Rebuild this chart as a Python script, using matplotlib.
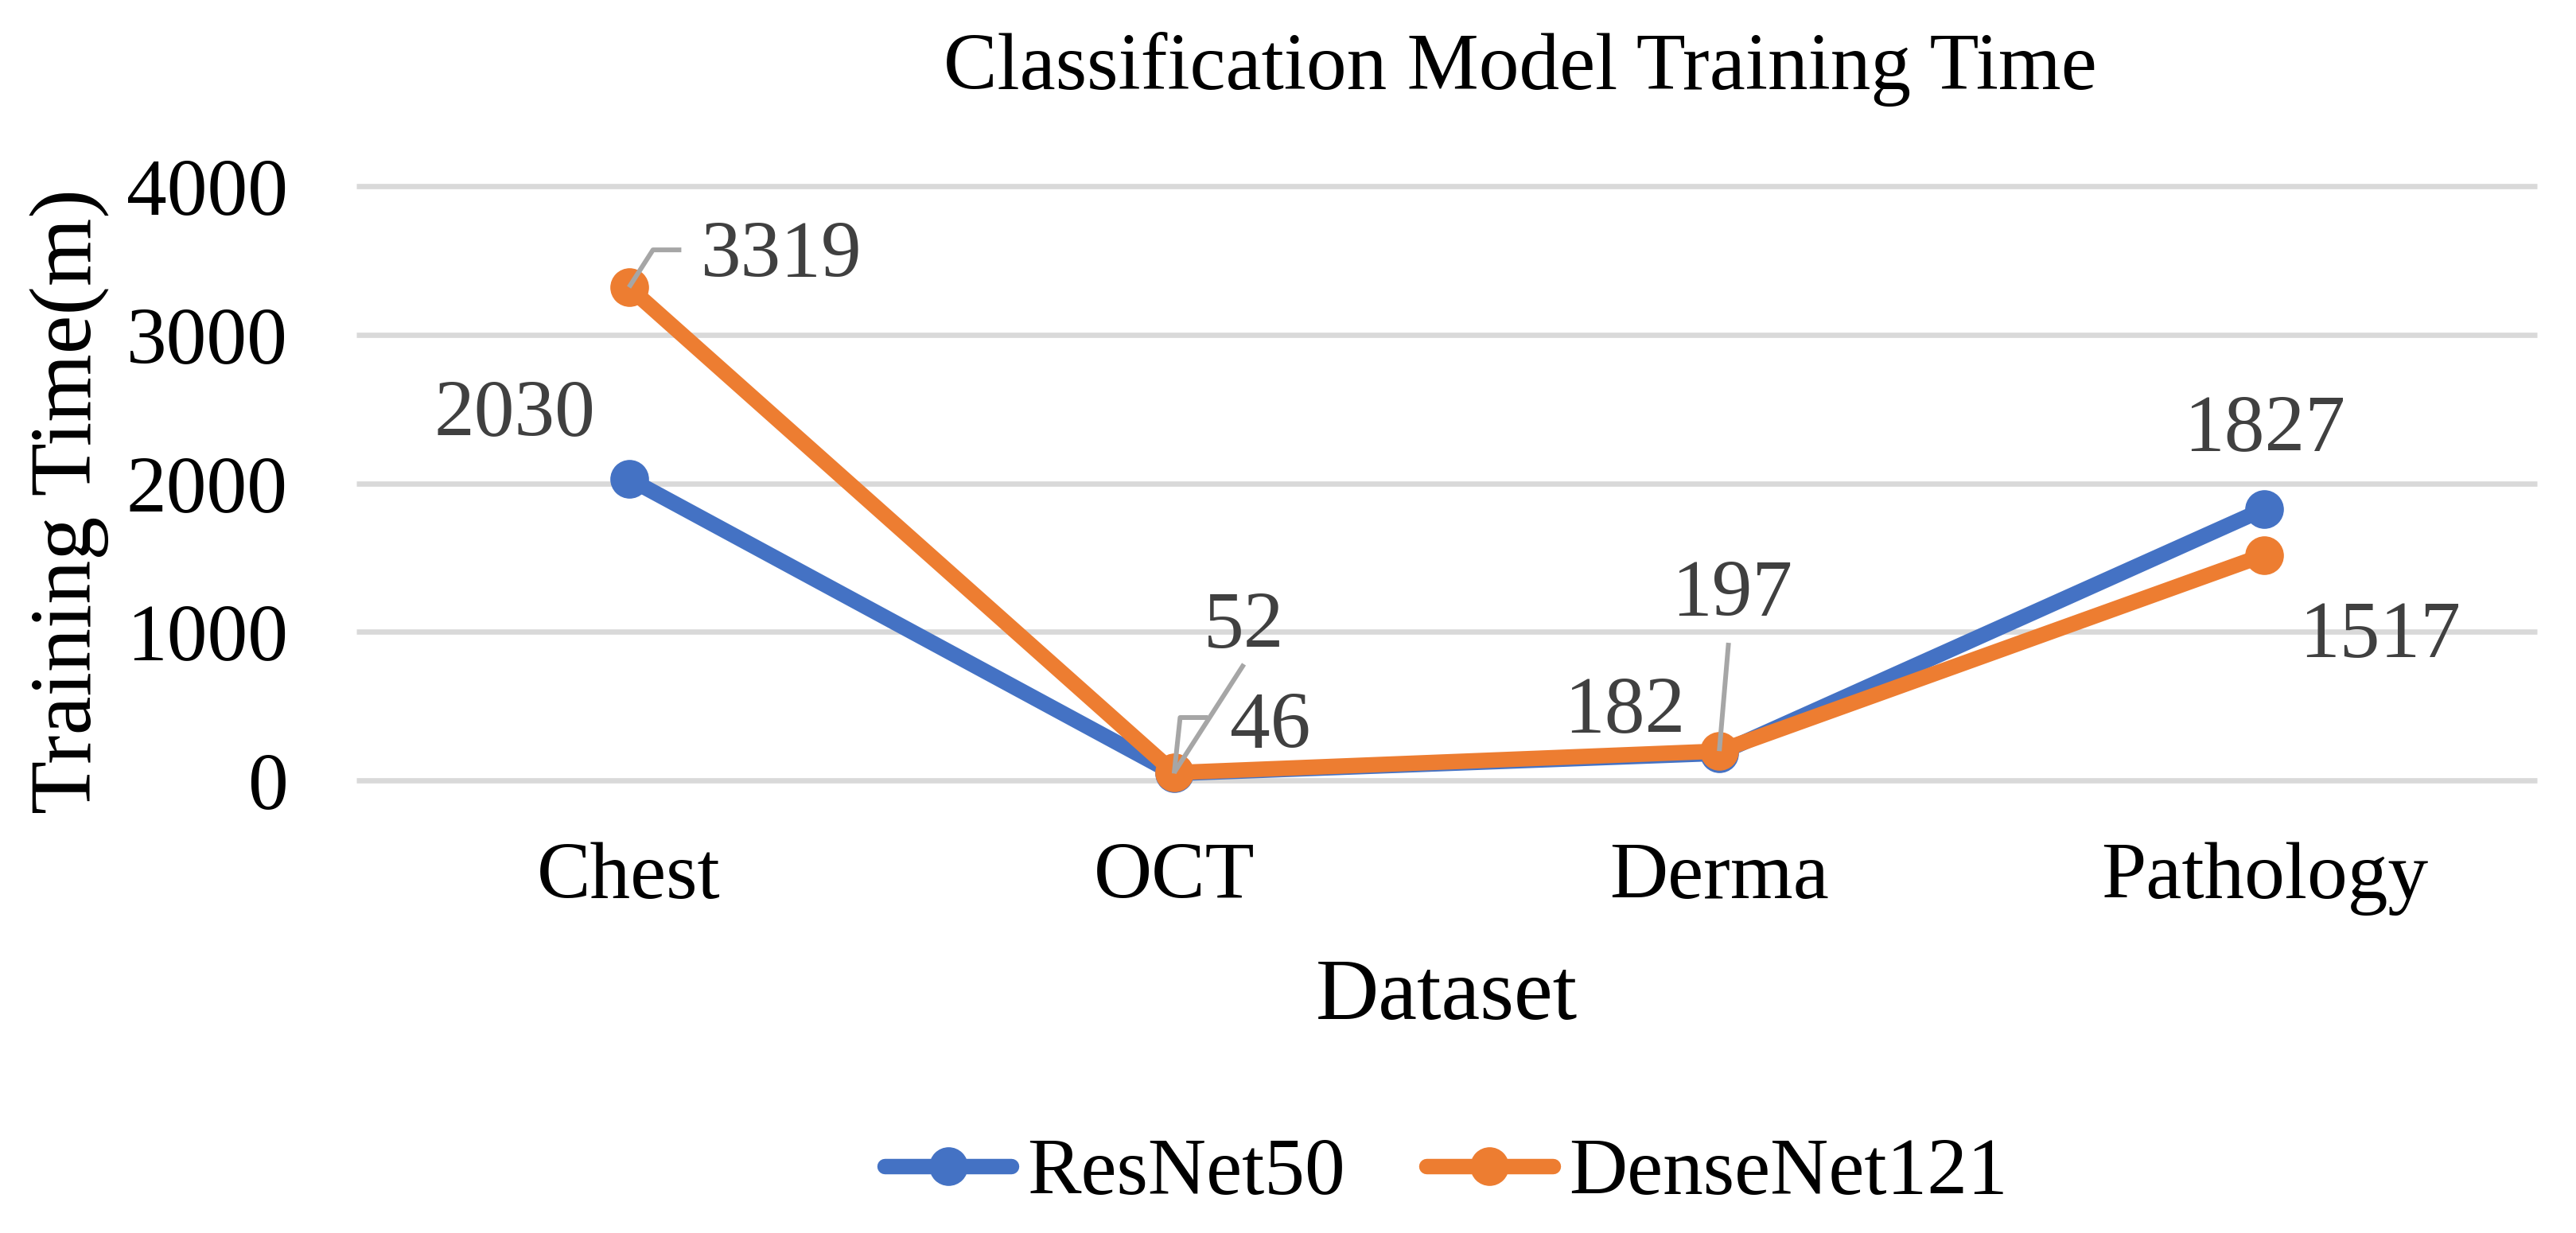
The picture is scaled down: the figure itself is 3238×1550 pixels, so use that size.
import matplotlib
matplotlib.use("Agg")
import matplotlib.pyplot as plt
from matplotlib.lines import Line2D

# ---- chart data ----
datasets = ["Chest", "OCT", "Derma", "Pathology"]
resnet50 = [2030, 46, 182, 1827]
densenet121 = [3319, 52, 197, 1517]
yticks = [0, 1000, 2000, 3000, 4000]

BLUE = "#4472C4"
ORANGE = "#ED7D31"
LABEL_GREY = "#404040"
LEADER_GREY = "#A6A6A6"
GRID_GREY = "#D9D9D9"

# label placement (dx in category units, dy in data units to the text baseline)
resnet_label_offsets = [(-0.21, 294), (0.177, 174), (-0.173, 145), (0.0, 395)]
densenet_label_offsets = [(0.279, 71), (0.128, 842), (0.023, 911), (0.212, -687)]
# leader lines: (series, index, polyline of offsets ending at the point)
leaders = [
    ("densenet", 0, [(0.096, 252), (0.044, 252), (0, 0)]),
    ("densenet", 1, [(0.128, 730), (0, 0)]),
    ("resnet", 1, [(0.062, 377), (0.011, 377), (0, 0)]),
    ("densenet", 2, [(0.017, 729), (0, 0)]),
]

plt.rcParams["font.family"] = ["Liberation Serif", "DejaVu Serif"]

W, H = 3238, 1550
fig = plt.figure(figsize=(W / 100, H / 100), dpi=100)
ax = fig.add_axes([448 / W, 1 - 981 / H, (3189 - 448) / W, (981 - 234) / H])

x = list(range(len(datasets)))
ax.set_xlim(-0.5, len(datasets) - 0.5)
ax.set_ylim(0, 4000)

# gridlines
ax.hlines(yticks, -0.5, len(datasets) - 0.5, color=GRID_GREY, lw=4.8,
          zorder=0, clip_on=False)

ax.plot(x, resnet50, color=BLUE, lw=14, marker="o", ms=34,
        solid_capstyle="round", clip_on=False, zorder=3, label="ResNet50")
ax.plot(x, densenet121, color=ORANGE, lw=14, marker="o", ms=34,
        solid_capstyle="round", clip_on=False, zorder=4, label="DenseNet121")

series = {"resnet": resnet50, "densenet": densenet121}
for name, idx, pts in leaders:
    val = series[name][idx]
    ax.plot([idx + p[0] for p in pts], [val + p[1] for p in pts],
            color=LEADER_GREY, lw=4.3, zorder=5, clip_on=False,
            solid_capstyle="butt")

for vals, offs in ((resnet50, resnet_label_offsets),
                   (densenet121, densenet_label_offsets)):
    for i, (v, (dx, dy)) in enumerate(zip(vals, offs)):
        ax.text(i + dx, v + dy, str(v), ha="center", va="baseline",
                fontsize=73, color=LABEL_GREY, zorder=6)

for s in ax.spines.values():
    s.set_visible(False)
ax.set_xticks(x)
ax.set_xticklabels(datasets, fontsize=73)
ax.set_yticks(yticks)
ax.set_yticklabels([str(t) for t in yticks], fontsize=73)
ax.tick_params(axis="x", length=0, pad=56)
ax.tick_params(axis="y", length=0, pad=62)

fig.text(0.59, 1 - 112 / H, "Classification Model Training Time",
         ha="center", va="baseline", fontsize=73)
fig.text(1818 / W, 1 - 1281 / H, "Dataset", ha="center", va="baseline",
         fontsize=79)
fig.text(88 / W, 1 - 630 / H, "Training Time(m)", rotation=90,
         ha="center", va="center", fontsize=79)

handles = [
    Line2D([], [], color=BLUE, lw=14, marker="o", ms=34,
           solid_capstyle="round"),
    Line2D([], [], color=ORANGE, lw=14, marker="o", ms=34,
           solid_capstyle="round"),
]
fig.legend(handles, ["ResNet50", "DenseNet121"], loc="center", ncol=2,
           bbox_to_anchor=(1818 / W, 1 - 1477 / H), frameon=False,
           fontsize=73, handlelength=1.57, handletextpad=0.2,
           columnspacing=1.0)

fig.savefig("out.png", dpi=100)
